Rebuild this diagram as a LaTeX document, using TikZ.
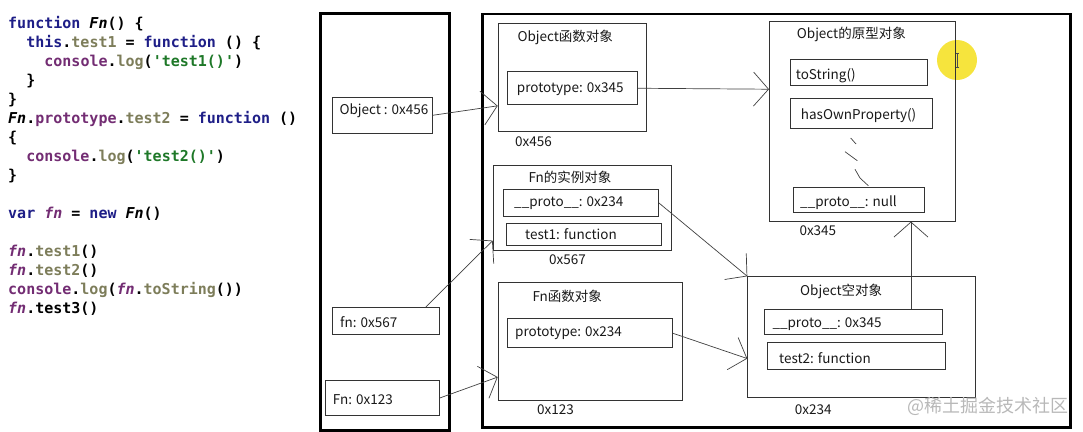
\documentclass[tikz,border=0pt]{standalone}
\usepackage{fontspec}
\setmonofont{DejaVu Sans Mono}
\newfontfamily\cjk{Noto Sans CJK SC}
\usetikzlibrary{arrows.meta,calc}
\definecolor{ckwc}{RGB}{30,30,135}
\definecolor{cpuc}{RGB}{115,45,115}
\definecolor{colc}{RGB}{125,125,90}
\definecolor{cstc}{RGB}{30,120,40}
\definecolor{cyel}{RGB}{245,225,40}
\newcommand\ckw[1]{\textcolor{ckwc}{#1}}
\newcommand\cpu[1]{\textcolor{cpuc}{#1}}
\newcommand\col[1]{\textcolor{colc}{#1}}
\newcommand\cst[1]{\textcolor{cstc}{#1}}
\begin{document}
\begin{tikzpicture}[x=1pt,y=-1pt,
  bigbox/.style={draw=black, line width=2.8pt, inner sep=0pt, anchor=north west},
  objbox/.style={draw=black!80, line width=0.9pt, inner sep=0pt, anchor=north west},
  lbl/.style={anchor=west, inner sep=0pt, font=\cjk\fontsize{13.5}{16}\selectfont, text=black!90},
  code/.style={anchor=base west, inner sep=0pt, font=\ttfamily\bfseries\fontsize{15}{18}\selectfont},
  ptr/.style={draw=black!75, line width=0.7pt, -{Straight Barb[length=15pt,width=34pt,line width=0.7pt]}},
  tick/.style={draw=black!75, line width=0.7pt},
]
\useasboundingbox (0,0) rectangle (1083,431);

% code
\node[code] (c1)  at (8,28.2)  {\ckw{function} \textit{Fn}() \{};
\node[code] (c2)  at (26.1,47.2) {\ckw{this}.\col{test1} = \ckw{function} () \{};
\node[code] (c3)  at (44.2,66.3) {\cpu{console}.\col{log}(\cst{'test1()'})};
\node[code] (c4)  at (26.1,85.3) {\}};
\node[code] (c5)  at (8,104.4) {\}};
\node[code] (c6)  at (8,123.4) {\textit{Fn}.\cpu{prototype}.\col{test2} = \ckw{function} ()};
\node[code] (c7)  at (8,142.4) {\{};
\node[code] (c8)  at (26.1,161.5) {\cpu{console}.\col{log}(\cst{'test2()'})};
\node[code] (c9)  at (8,180.5) {\}};
\node[code] (c11) at (8,218.6) {\ckw{var} \cpu{\textit{fn}} = \ckw{new} \textit{Fn}()};
\node[code] (c13) at (8,256.7) {\cpu{\textit{fn}}.\col{test1}()};
\node[code] (c14) at (8,275.7) {\cpu{\textit{fn}}.\col{test2}()};
\node[code] (c15) at (8,294.8) {\cpu{console}.\col{log}(\cpu{\textit{fn}}.\col{toString}())};
\node[code] (c16) at (8,313.8) {\cpu{\textit{fn}}.test3()};

% cursor highlight
\fill[cyel, opacity=0.9] (957,60) circle (20);
\draw[black!70, line width=0.8pt] (955,53) -- (959,53) (957,53) -- (957,67) (955,67) -- (959,67);

% big boxes
\node[bigbox, minimum width=129, minimum height=417] (stack) at (319,12) {};
\node[bigbox, minimum width=588.3, minimum height=413.5] (heap) at (480.7,12.5) {};

% stack items
\node[objbox, minimum width=99.7, minimum height=36.3] (obj456) at (332,96.7) {};
\node[objbox, minimum width=107.3, minimum height=27] (fn567) at (331.7,307) {};
\node[objbox, minimum width=114, minimum height=35] (fn123) at (325,380) {};
\node[lbl] (tobj456) at (339.3,110.7) {Object : 0x456};
\node[lbl] (tfn567) at (340,322.3) {fn: 0x567};
\node[lbl] (tfn123) at (332.7,399.3) {Fn: 0x123};

% Object function object
\node[objbox, minimum width=148.3, minimum height=107.7] (objfn) at (497.7,23.3) {};
\node[objbox, minimum width=130.3, minimum height=33] (proto345) at (506.7,71.3) {};
\node[lbl] (tobjfn) at (517.3,37.7) {Object函数对象};
\node[lbl] (tproto345) at (516.7,89) {prototype: 0x345};
\node[lbl] (a456) at (515,141.7) {0x456};

% Fn instance
\node[objbox, minimum width=178, minimum height=85] (inst) at (492.7,165) {};
\node[objbox, minimum width=155, minimum height=26.4] (instproto) at (503,189.3) {};
\node[objbox, minimum width=154.7, minimum height=22] (insttest1) at (506,222.7) {};
\node[lbl] (tinst) at (528.3,177.7) {Fn的实例对象};
\node[lbl] (tinstproto) at (514,203.3) {\_\_proto\_\_: 0x234};
\node[lbl] (tinsttest1) at (525,234) {test1: function};
\node[lbl] (a567) at (549,260) {0x567};

% Fn function object
\node[objbox, minimum width=184, minimum height=118.3] (fnfunc) at (497.7,281.7) {};
\node[objbox, minimum width=165.3, minimum height=29] (fnproto) at (506.7,318.3) {};
\node[lbl] (tfnfunc) at (532.3,296) {Fn函数对象};
\node[lbl] (tfnproto) at (515,332.7) {prototype: 0x234};
\node[lbl] (a123) at (537,410) {0x123};

% Object prototype object
\node[objbox, minimum width=185.7, minimum height=199.7] (protoobj) at (769,21) {};
\node[objbox, minimum width=137.3, minimum height=26] (tostr) at (790,59.3) {};
\node[objbox, minimum width=142.3, minimum height=30.3] (hasown) at (790,98) {};
\node[objbox, minimum width=131.6, minimum height=25.6] (nullproto) at (792.7,186.7) {};
\node[lbl] (tprotoobj) at (796.7,34.3) {Object的原型对象};
\node[lbl] (ttostr) at (795.7,76) {toString()};
\node[lbl] (thasown) at (800.7,115.7) {hasOwnProperty()};
\node[lbl] (tnullproto) at (800,202.7) {\_\_proto\_\_: null};
\node[lbl] (a345) at (799.3,231) {0x345};
\draw[tick] (850.7,138) -- (856,144);
\draw[tick] (845,151.7) -- (857.3,160.7);
\draw[tick] (855,169.3) -- (860,178) -- (868.3,185.7);

% Object empty object
\node[objbox, minimum width=228, minimum height=121] (objempty) at (747.3,276.3) {};
\node[objbox, minimum width=178.3, minimum height=25.3] (emptyproto) at (764,308.7) {};
\node[objbox, minimum width=178, minimum height=26.7] (emptytest2) at (767,342.3) {};
\node[lbl] (tobjempty) at (800,291.7) {Object空对象};
\node[lbl] (temptyproto) at (772.3,324) {\_\_proto\_\_: 0x345};
\node[lbl] (temptytest2) at (779,357.7) {test2: function};
\node[lbl] (a234) at (794.7,409.3) {0x234};

% watermark
\node[anchor=west, inner sep=0pt, font=\cjk\fontsize{18}{20}\selectfont, text=black!28] (wm) at (907,406) {@稀土掘金技术社区};

% pointers
\draw[ptr] (obj456.east) -- ($(objfn.north west)!0.76!(objfn.south west)$);
\draw[ptr] (proto345.east) -- ($(protoobj.north west)!0.34!(protoobj.south west)$);
\draw[ptr] ($(fn567.north west)!0.87!(fn567.north east)$) -- ($(inst.north west)!0.88!(inst.south west)$);
\draw[ptr] (fn123.east) -- ($(fnfunc.north west)!0.80!(fnfunc.south west)$);
\draw[ptr] (instproto.east) -- (objempty.north west);
\draw[ptr] (fnproto.east) -- ($(objempty.north west)!0.675!(objempty.south west)$);
\coordinate (pe) at ($(emptyproto.north west)!0.82!(emptyproto.north east)$);
\draw[ptr] (pe) -- (pe |- protoobj.south);
\end{tikzpicture}
\end{document}
